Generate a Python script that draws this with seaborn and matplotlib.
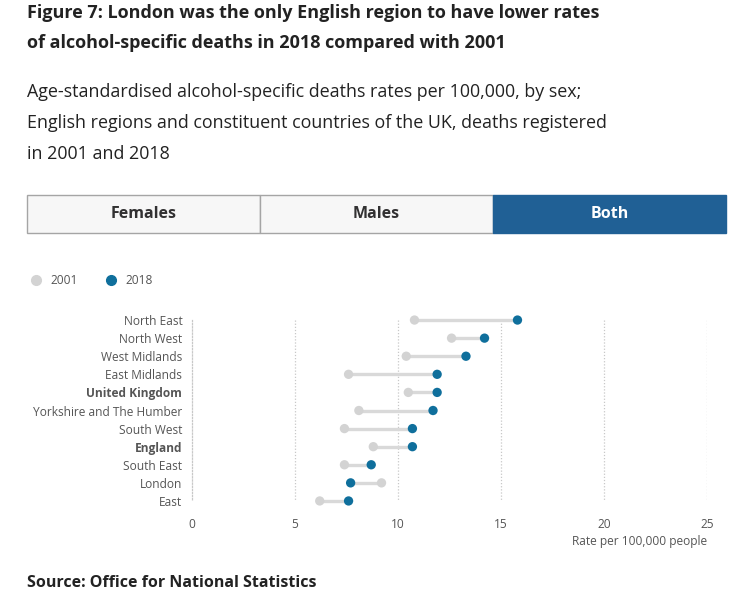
import pandas as pd
import matplotlib
matplotlib.use('Agg')
from matplotlib import pyplot as plt
from matplotlib.patches import Rectangle
from matplotlib.lines import Line2D
import seaborn as sns

regions = ['North East', 'North West', 'West Midlands', 'East Midlands', 'United Kingdom',
           'Yorkshire and The Humber', 'South West', 'England', 'South East', 'London', 'East']
rate_2001 = [10.8, 12.6, 10.4, 7.6, 10.5, 8.1, 7.4, 8.8, 7.4, 9.2, 6.2]
rate_2018 = [15.8, 14.2, 13.3, 11.9, 11.9, 11.7, 10.7, 10.7, 8.7, 7.7, 7.6]
years = ['2001', '2018']
bold_rows = ['United Kingdom', 'England']
x_ticks = [0, 5, 10, 15, 20, 25]
buttons = ['Females', 'Males', 'Both']

W, H = 740, 614
GREY_DOT = '#d3d3d3'
BLUE_DOT = '#0f6f9c'

sns.set_style('white')
plt.rcParams['font.family'] = ['Open Sans', 'DejaVu Sans']

df = pd.DataFrame({
    'region': regions * 2,
    'rate': rate_2001 + rate_2018,
    'year': [years[0]] * len(regions) + [years[1]] * len(regions),
})

fig = plt.figure(figsize=(W / 100, H / 100), dpi=100)

def fx(px):
    return px / W

def fy(py):
    return 1 - py / H

# headings
fig.text(fx(27), fy(13), 'Figure 7: London was the only English region to have lower rates',
         fontsize=12.95, fontweight='bold', color='#222222', va='center')
fig.text(fx(27), fy(43), 'of alcohol-specific deaths in 2018 compared with 2001',
         fontsize=12.95, fontweight='bold', color='#222222', va='center')
sub = ['Age-standardised alcohol-specific deaths rates per 100,000, by sex;',
       'English regions and constituent countries of the UK, deaths registered',
       'in 2001 and 2018']
for i, line in enumerate(sub):
    fig.text(fx(27), fy(92 + i * 31), line, fontsize=12.9, color='#222222', va='center')

# tab buttons
bw = (726 - 27) / 3
for i, name in enumerate(buttons):
    active = name == 'Both'
    x0 = 27 + i * bw
    fig.patches.append(Rectangle((fx(x0), fy(233)), fx(bw), (233 - 195) / H,
                                 transform=fig.transFigure, figure=fig,
                                 facecolor='#206095' if active else '#f7f7f7',
                                 edgecolor='#206095' if active else '#a5a5a5', lw=1))
    fig.text(fx(x0 + bw / 2), fy(214), name, ha='center', va='center', fontsize=11.5,
             fontweight='bold', color='white' if active else '#323132')

ax = fig.add_axes([fx(192), fy(510), fx(707 - 192), (510 - 311) / H])

ax.hlines(y=regions, xmin=rate_2001, xmax=rate_2018, color='#d9d9d9', lw=2.4, zorder=1)
sns.scatterplot(data=df, x='rate', y='region', hue='year', palette=[GREY_DOT, BLUE_DOT],
                s=45, edgecolor='none', legend=False, ax=ax, zorder=3)

ax.set_xlim(0, 25)
ax.set_ylim(len(regions) - 0.5, -0.5)
ax.vlines(x_ticks[1:], ymin=0, ymax=len(regions) - 1, colors='#c8c8c8', lw=0.9,
          linestyles=(0, (1, 1.5)), zorder=0)
ax.set_xticks(x_ticks)
ax.set_xticklabels([str(t) for t in x_ticks])

for s in ['top', 'right', 'bottom']:
    ax.spines[s].set_visible(False)
ax.spines['left'].set_bounds(0, len(regions) - 1)
ax.spines['left'].set_color('#c8c8c8')
ax.spines['left'].set_linestyle((0, (1, 1.5)))
ax.spines['left'].set_linewidth(0.9)

ax.tick_params(axis='x', length=0, pad=6, labelsize=8.6, labelcolor='#555555')
ax.tick_params(axis='y', length=4, width=0.8, color='#cccccc', pad=3,
               labelsize=8.6, labelcolor='#555555')
for lab in ax.get_yticklabels():
    if lab.get_text() in bold_rows:
        lab.set_fontweight('bold')
ax.set_ylabel('')
ax.set_xlabel('Rate per 100,000 people', loc='right', fontsize=8.6, color='#555555', labelpad=3)

handles = [Line2D([], [], marker='o', ls='none', color=c, markersize=7)
           for c in [GREY_DOT, BLUE_DOT]]
fig.legend(handles, years, loc='center left', bbox_to_anchor=(fx(18), fy(281)), ncol=2,
           frameon=False, fontsize=8.6, labelcolor='#555555', handletextpad=0.6,
           columnspacing=2.2, handlelength=1.2)

fig.text(fx(27), fy(583), 'Source: Office for National Statistics', fontsize=11.5,
         fontweight='bold', color='#222222', va='center')

fig.savefig('out.png', dpi=100, facecolor='white')
